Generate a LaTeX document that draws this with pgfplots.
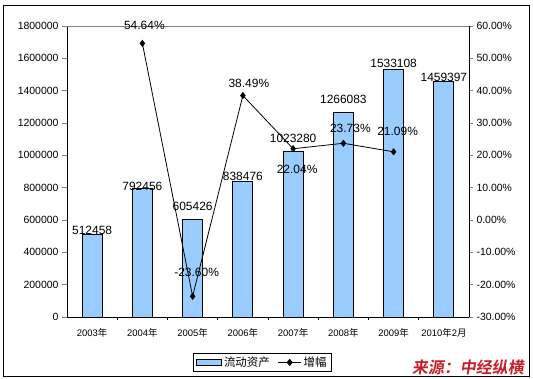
\documentclass[border=0pt]{standalone}
\usepackage{pgfplots}
\pgfplotsset{compat=1.18}
\usepackage{fontspec}
\setmainfont{Liberation Sans}
\newfontfamily\cjk{Noto Sans CJK SC}
\newfontfamily\cjkbold[FakeSlant=0.15]{Noto Sans CJK SC Bold}
\definecolor{barblue}{RGB}{153,204,255}
\definecolor{srcred}{RGB}{200,30,40}
\begin{document}
\begin{tikzpicture}
\useasboundingbox (-67bp,-62bp) rectangle (466bp,317bp);
\draw[line width=1bp] (-63bp,-59bp) rectangle (462bp,311bp);
\begin{axis}[
  at={(0,0)}, anchor=south west,
  scale only axis, width=402bp, height=291bp,
  xmin=-0.5, xmax=7.5, ymin=0, ymax=1800000,
  axis x line*=bottom, axis y line*=left,
  axis line style={-, line width=0.8bp},
  /pgf/number format/assume math mode=true,
  scaled y ticks=false,
  xtick={0,1,2,3,4,5,6,7},
  xticklabels={2003{\cjk 年},2004{\cjk 年},2005{\cjk 年},2006{\cjk 年},2007{\cjk 年},2008{\cjk 年},2009{\cjk 年},2010{\cjk 年}2{\cjk 月}},
  minor xtick={0.5,1.5,2.5,3.5,4.5,5.5,6.5},
  xtick style={draw=none},
  minor x tick style={draw=black, line width=0.6bp},
  minor tick length=3bp,
  ytick={0,200000,400000,600000,800000,1000000,1200000,1400000,1600000,1800000},
  yticklabels={0,200000,400000,600000,800000,1000000,1200000,1400000,1600000,1800000},
  y tick style={line width=0.6bp},
  tick align=outside, major tick length=5bp,
  xticklabel style={font=\fontsize{9.5}{10}\selectfont, yshift=-3bp},
  yticklabel style={font=\fontsize{10.5}{11}\selectfont},
  clip=false,
]
\draw[gray, line width=0.6bp] (rel axis cs:0,1) -- (rel axis cs:1,1);
\addplot[ybar, bar width=20bp, fill=barblue, draw=black, line width=0.8bp,
  nodes near coords, point meta=explicit symbolic,
  visualization depends on={value \thisrow{dy} \as \labdy},
  nodes near coords style={font=\fontsize{12}{12}\selectfont, anchor=center, yshift=\labdy*1bp, inner sep=0pt}]
  table[x=x, y=y, meta=lbl] {
x y lbl dy
0 512458 512458 4
1 792456 792456 3
2 605426 605426 13
3 838476 838476 5
4 1023280 1023280 13
5 1266083 1266083 13
6 1533108 1533108 6
7 1459397 1459397 4
};
\end{axis}
\begin{axis}[
  at={(0,0)}, anchor=south west,
  scale only axis, width=402bp, height=291bp,
  xmin=-0.5, xmax=7.5, ymin=-30, ymax=60,
  axis x line=none, axis y line*=right,
  axis line style={-, line width=0.8bp},
  ytick={-30,-20,-10,0,10,20,30,40,50,60},
  yticklabels={-30.00\%,-20.00\%,-10.00\%,0.00\%,10.00\%,20.00\%,30.00\%,40.00\%,50.00\%,60.00\%},
  y tick style={line width=0.6bp},
  tick align=outside, major tick length=4bp,
  yticklabel style={font=\fontsize{10.5}{11}\selectfont},
  clip=false,
  legend columns=-1,
  legend style={at={(0.486,-0.156)}, anchor=center, draw=black, line width=0.8bp,
    font=\cjk\fontsize{11.5}{12}\selectfont, inner xsep=3bp, inner ysep=1bp,
    /tikz/every even column/.append style={column sep=6bp}},
]
\addlegendimage{legend image code/.code={\draw[fill=barblue,draw=black,line width=0.8bp] (0bp,-3bp) rectangle (25bp,3bp);}}
\addlegendentry{流动资产}
\addplot[black, line width=0.8bp, mark=diamond*, mark size=3bp,
  legend image code/.code={\draw[black,line width=0.8bp] (0bp,0bp) -- (23bp,0bp); \fill[black] (11.5bp,3bp) -- (14bp,0bp) -- (11.5bp,-3bp) -- (9bp,0bp) -- cycle;},
  nodes near coords, point meta=explicit symbolic,
  visualization depends on={value \thisrow{dx} \as \labdx},
  visualization depends on={value \thisrow{dy} \as \labdy},
  nodes near coords style={font=\fontsize{12}{12}\selectfont, anchor=center, xshift=\labdx*1bp, yshift=\labdy*1bp, inner sep=0pt, text=black}]
  table[x=x, y=y, meta=lbl] {
x y lbl dx dy
1 54.64 54.64\% 2 18
2 -23.60 -23.60\% 4 24
3 38.49 38.49\% 6 12
4 22.04 22.04\% 4 -21
5 23.73 23.73\% 7 15
6 21.09 21.09\% 4 20
};
\addlegendentry{增幅}
\end{axis}
\node[text=srcred, font=\cjkbold\fontsize{16}{16}\selectfont, inner sep=0pt] at (401bp,-50bp) {来源：中经纵横};
\end{tikzpicture}
\end{document}
